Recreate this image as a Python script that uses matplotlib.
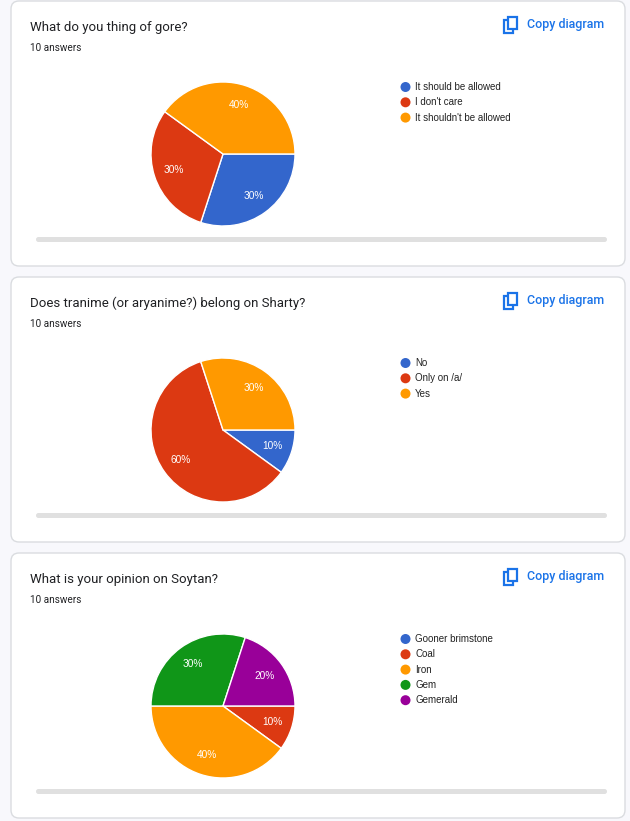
import matplotlib
matplotlib.use("Agg")
import matplotlib.pyplot as plt
from matplotlib.patches import FancyBboxPatch, Rectangle, Circle

W, H = 630, 821

# data
titles = ["What do you thing of gore?",
          "Does tranime (or aryanime?) belong on Sharty?",
          "What is your opinion on Soytan?"]
answers = ["10 answers", "10 answers", "10 answers"]
labels1 = ["It should be allowed", "I don't care", "It shouldn't be allowed"]
values1 = [3, 3, 4]
labels2 = ["No", "Only on /a/", "Yes"]
values2 = [1, 6, 3]
labels3 = ["Gooner brimstone", "Coal", "Iron", "Gem", "Gemerald"]
values3 = [0, 1, 4, 3, 2]
palette = ["#3366cc", "#dc3912", "#ff9900", "#109618", "#990099"]

charts = [(labels1, values1), (labels2, values2), (labels3, values3)]
card_tops = [1, 277, 553]
card_h = 265

fig = plt.figure(figsize=(W / 100, H / 100), dpi=100)
fig.patch.set_facecolor("#f8f8fc")
bg = fig.add_axes([0, 0, 1, 1])
bg.set_xlim(0, W)
bg.set_ylim(H, 0)
bg.axis("off")

for i, (labs, vals) in enumerate(charts):
    top = card_tops[i]
    bg.add_patch(FancyBboxPatch((11, top), 614, card_h,
                                boxstyle="round,pad=0,rounding_size=8",
                                facecolor="white", edgecolor="#dadce0", lw=1))
    bg.text(30, top + 26, titles[i], fontsize=9.5, family="Roboto",
            color="#202124", va="center")
    bg.text(30, top + 47, answers[i], fontsize=7.2, family="Roboto",
            color="#202124", va="center")
    # copy icon
    bg.add_patch(Rectangle((503.5, top + 19.5), 9, 12.5, fill=False,
                           edgecolor="#1a73e8", lw=1.6))
    bg.add_patch(Rectangle((507.5, top + 16), 9, 12.5, facecolor="white",
                           edgecolor="#1a73e8", lw=1.6))
    bg.text(527, top + 23.5, "Copy diagram", fontsize=9, family="Roboto",
            color="#1a73e8", va="center", weight="medium")
    # scroll bar
    bg.add_patch(FancyBboxPatch((36, top + 236), 571, 5,
                                boxstyle="round,pad=0,rounding_size=2.5",
                                facecolor="#e0e0e0", edgecolor="none"))
    # legend
    for k, lab in enumerate(labs):
        y = top + 86 + k * 15.3
        bg.add_patch(Circle((405.5, y), 5, facecolor=palette[k],
                            edgecolor="none"))
        bg.text(415, y, lab, fontsize=7, family="Liberation Sans",
                color="#222222", va="center")

    # pie
    cx, cy, r = 223, top + 153, 72
    pax = fig.add_axes([(cx - r) / W, 1 - (cy + r) / H, 2 * r / W, 2 * r / H])
    wedges, _, autotexts = pax.pie(
        vals, colors=palette[:len(vals)], startangle=0, counterclock=False,
        autopct=lambda p: f"{p:.0f}%" if p > 0 else "", pctdistance=0.72,
        wedgeprops=dict(edgecolor="white", linewidth=1),
        textprops=dict(color="white", fontsize=7.3, family="Liberation Sans"))
    pax.set_xlim(-1, 1)
    pax.set_ylim(-1, 1)
    pax.set_aspect("equal")

fig.savefig("out.png", dpi=100, facecolor=fig.get_facecolor())
